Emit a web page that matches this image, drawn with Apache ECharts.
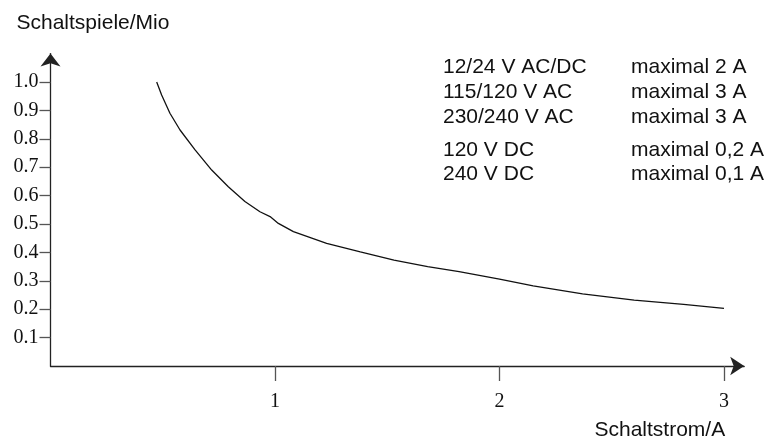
<!DOCTYPE html>
<html>
<head>
<meta charset="utf-8">
<script src="https://cdn.jsdelivr.net/npm/echarts@6/dist/echarts.min.js"></script>
<style>html,body{margin:0;padding:0;background:#fff}#c{width:771px;height:444px}</style>
</head>
<body>
<div id="c"></div>
<script>
// Schaltstrom (A) vs. Schaltspiele (Mio)
const current = [0.473, 0.495, 0.532, 0.577, 0.644, 0.718, 0.792, 0.866, 0.933, 0.978, 1.015, 1.082, 1.23, 1.38, 1.53, 1.68, 1.82, 2.0, 2.15, 2.37, 2.6, 2.82, 3.0];
const cycles  = [1.0, 0.954, 0.89, 0.831, 0.761, 0.69, 0.631, 0.579, 0.543, 0.526, 0.502, 0.473, 0.432, 0.402, 0.373, 0.35, 0.332, 0.306, 0.282, 0.254, 0.232, 0.217, 0.203];
const yTicks = [0.1, 0.2, 0.3, 0.4, 0.5, 0.6, 0.7, 0.8, 0.9, 1.0];
const xTicks = [1, 2, 3];
const voltages = ['12/24 V AC/DC', '115/120 V AC', '230/240 V AC', '120 V DC', '240 V DC'];
const maxCurrents = ['maximal 2 A', 'maximal 3 A', 'maximal 3 A', 'maximal 0,2 A', 'maximal 0,1 A'];
const xName = 'Schaltstrom/A';
const yName = 'Schaltspiele/Mio';

const rowY = [68, 93, 118, 151, 175];
const sans = 'Liberation Sans, Arial, Helvetica, sans-serif';
const serif = 'Liberation Serif, Times New Roman, serif';

const graphics = [];
voltages.forEach((t, i) => {
  graphics.push({type: 'text', left: 443, top: rowY[i] - 11, style: {text: t, font: '21px ' + sans, fill: '#111'}});
  graphics.push({type: 'text', left: 631, top: rowY[i] - 11, style: {text: maxCurrents[i], font: '21px ' + sans, fill: '#111'}});
});

const chart = echarts.init(document.getElementById('c'), null, {renderer: 'canvas'});
chart.setOption({
  animation: false,
  backgroundColor: '#fff',
  grid: {left: 50.5, right: 26.8, top: 53.6, bottom: 78, containLabel: false, outerBoundsMode: 'none'},
  xAxis: {
    type: 'value', min: 0, max: 3.09,
    name: xName, nameLocation: 'end', nameGap: -19,
    nameTextStyle: {fontFamily: sans, fontSize: 21, color: '#111', align: 'right', verticalAlign: 'top', padding: [54, 0, 0, 0]},
    axisLine: {show: true, symbol: ['none', 'arrow'], symbolSize: [14, 14], lineStyle: {color: '#222', width: 1.3}},
    axisTick: {show: true, length: 15, customValues: xTicks, lineStyle: {color: '#555', width: 1.3}},
    axisLabel: {show: true, customValues: xTicks, margin: 26, fontFamily: serif, fontSize: 20, color: '#111', formatter: v => String(v)},
    splitLine: {show: false}
  },
  yAxis: {
    type: 'value', min: 0, max: 1.1,
    name: yName, nameLocation: 'end', nameGap: 20,
    nameTextStyle: {fontFamily: sans, fontSize: 21, color: '#111', align: 'left', padding: [0, 0, 0, -34]},
    axisLine: {show: true, symbol: ['none', 'arrow'], symbolSize: [15, 13], lineStyle: {color: '#222', width: 1.3}},
    axisTick: {show: true, length: 11, customValues: yTicks, lineStyle: {color: '#555', width: 1.3}},
    axisLabel: {show: true, customValues: yTicks, margin: 12, fontFamily: serif, fontSize: 20, color: '#111', formatter: v => v.toFixed(1), padding: [5, 0, 0, 0]},
    splitLine: {show: false}
  },
  series: [{
    type: 'line', data: current.map((x, i) => [x, cycles[i]]),
    showSymbol: false, smooth: false,
    lineStyle: {color: '#111', width: 1.3}
  }],
  graphic: graphics
});
</script>
</body>
</html>
